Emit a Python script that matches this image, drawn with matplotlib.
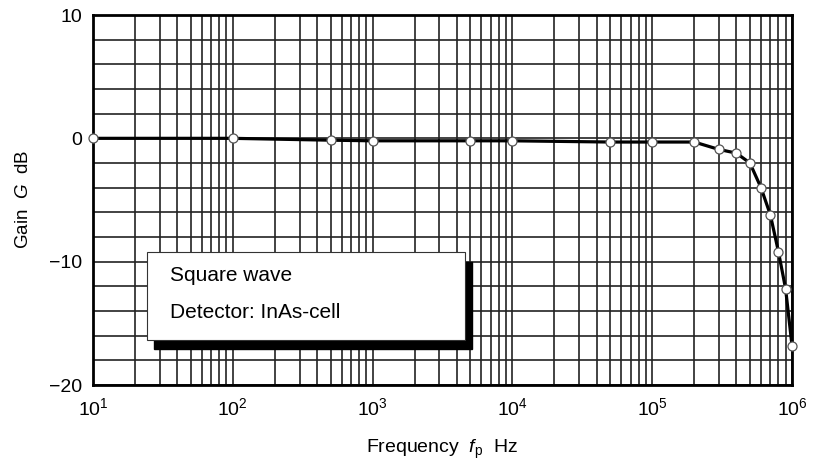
import matplotlib
matplotlib.use("Agg")
import matplotlib.pyplot as plt
from matplotlib.patches import Rectangle
from matplotlib.ticker import LogLocator, FixedLocator, NullFormatter
import numpy as np

plt.rcParams['font.family'] = ['Liberation Sans', 'DejaVu Sans']
plt.rcParams['mathtext.fontset'] = 'custom'
plt.rcParams['mathtext.rm'] = 'Liberation Sans'
plt.rcParams['mathtext.it'] = 'Liberation Sans:italic'
plt.rcParams['mathtext.default'] = 'regular'

# Measured frequency response
freq_hz = [10, 100, 500, 1e3, 5e3, 1e4, 5e4, 1e5, 2e5, 3e5, 4e5, 5e5, 6e5, 7e5, 8e5, 9e5, 1e6]
gain_db = [0.0, 0.0, -0.15, -0.2, -0.2, -0.2, -0.3, -0.3, -0.3, -0.9, -1.2, -2.0, -4.0, -6.2, -9.2, -12.2, -16.8]

y_ticks = [-20, -10, 0, 10]
y_tick_labels = ['\u221220', '\u221210', '0', '10']
x_ticks = [1e1, 1e2, 1e3, 1e4, 1e5, 1e6]
x_tick_labels = [r'$10^{1}$', r'$10^{2}$', r'$10^{3}$', r'$10^{4}$', r'$10^{5}$', r'$10^{6}$']
note_lines = ["Square wave", "Detector: InAs-cell"]

fig = plt.figure(figsize=(8.16, 4.62), dpi=100)
ax = fig.add_axes([93/816, 1 - 385/462, 699/816, 370/462])

ax.set_xscale('log')
ax.set_xlim(1e1, 1e6)
ax.set_ylim(-20, 10)

ax.set_xticks(x_ticks)
ax.set_xticklabels(x_tick_labels)
ax.xaxis.set_minor_locator(LogLocator(base=10, subs=np.arange(2, 10)))
ax.xaxis.set_minor_formatter(NullFormatter())
ax.set_yticks(y_ticks)
ax.set_yticklabels(y_tick_labels)
ax.yaxis.set_minor_locator(FixedLocator(np.arange(-20, 11, 2)))

ax.tick_params(which='both', length=0)
ax.tick_params(axis='x', pad=9, labelsize=14)
ax.tick_params(axis='y', pad=8, labelsize=14)

ax.grid(True, which='both', color='#222222', linewidth=1.2)
ax.set_axisbelow(True)
for s in ax.spines.values():
    s.set_linewidth(2.0)
    s.set_color('black')

ax.plot(freq_hz, gain_db, color='black', linewidth=2.3, zorder=3,
        marker='o', markersize=6.5, markerfacecolor='white',
        markeredgecolor='#555555', markeredgewidth=0.9, clip_on=False)

# Annotation box with drop shadow
bx, by, bw, bh = 0.077, 0.122, 0.455, 0.237
ax.add_patch(Rectangle((bx + 0.010, by - 0.026), bw, bh, transform=ax.transAxes,
                       facecolor='black', edgecolor='black', zorder=4))
ax.add_patch(Rectangle((bx, by), bw, bh, transform=ax.transAxes,
                       facecolor='white', edgecolor='#333333', linewidth=0.8, zorder=5))
ax.text(0.110, 0.297, note_lines[0], transform=ax.transAxes, fontsize=15,
        va='center', ha='left', zorder=6)
ax.text(0.110, 0.197, note_lines[1], transform=ax.transAxes, fontsize=15,
        va='center', ha='left', zorder=6)

ax.set_xlabel(r'Frequency  $\mathit{f}_{\mathrm{p}}$  Hz', fontsize=14, labelpad=13)
ax.set_ylabel(r'Gain  $\mathit{G}$  dB', fontsize=13.5, labelpad=12)

fig.savefig('out.png', dpi=100)
